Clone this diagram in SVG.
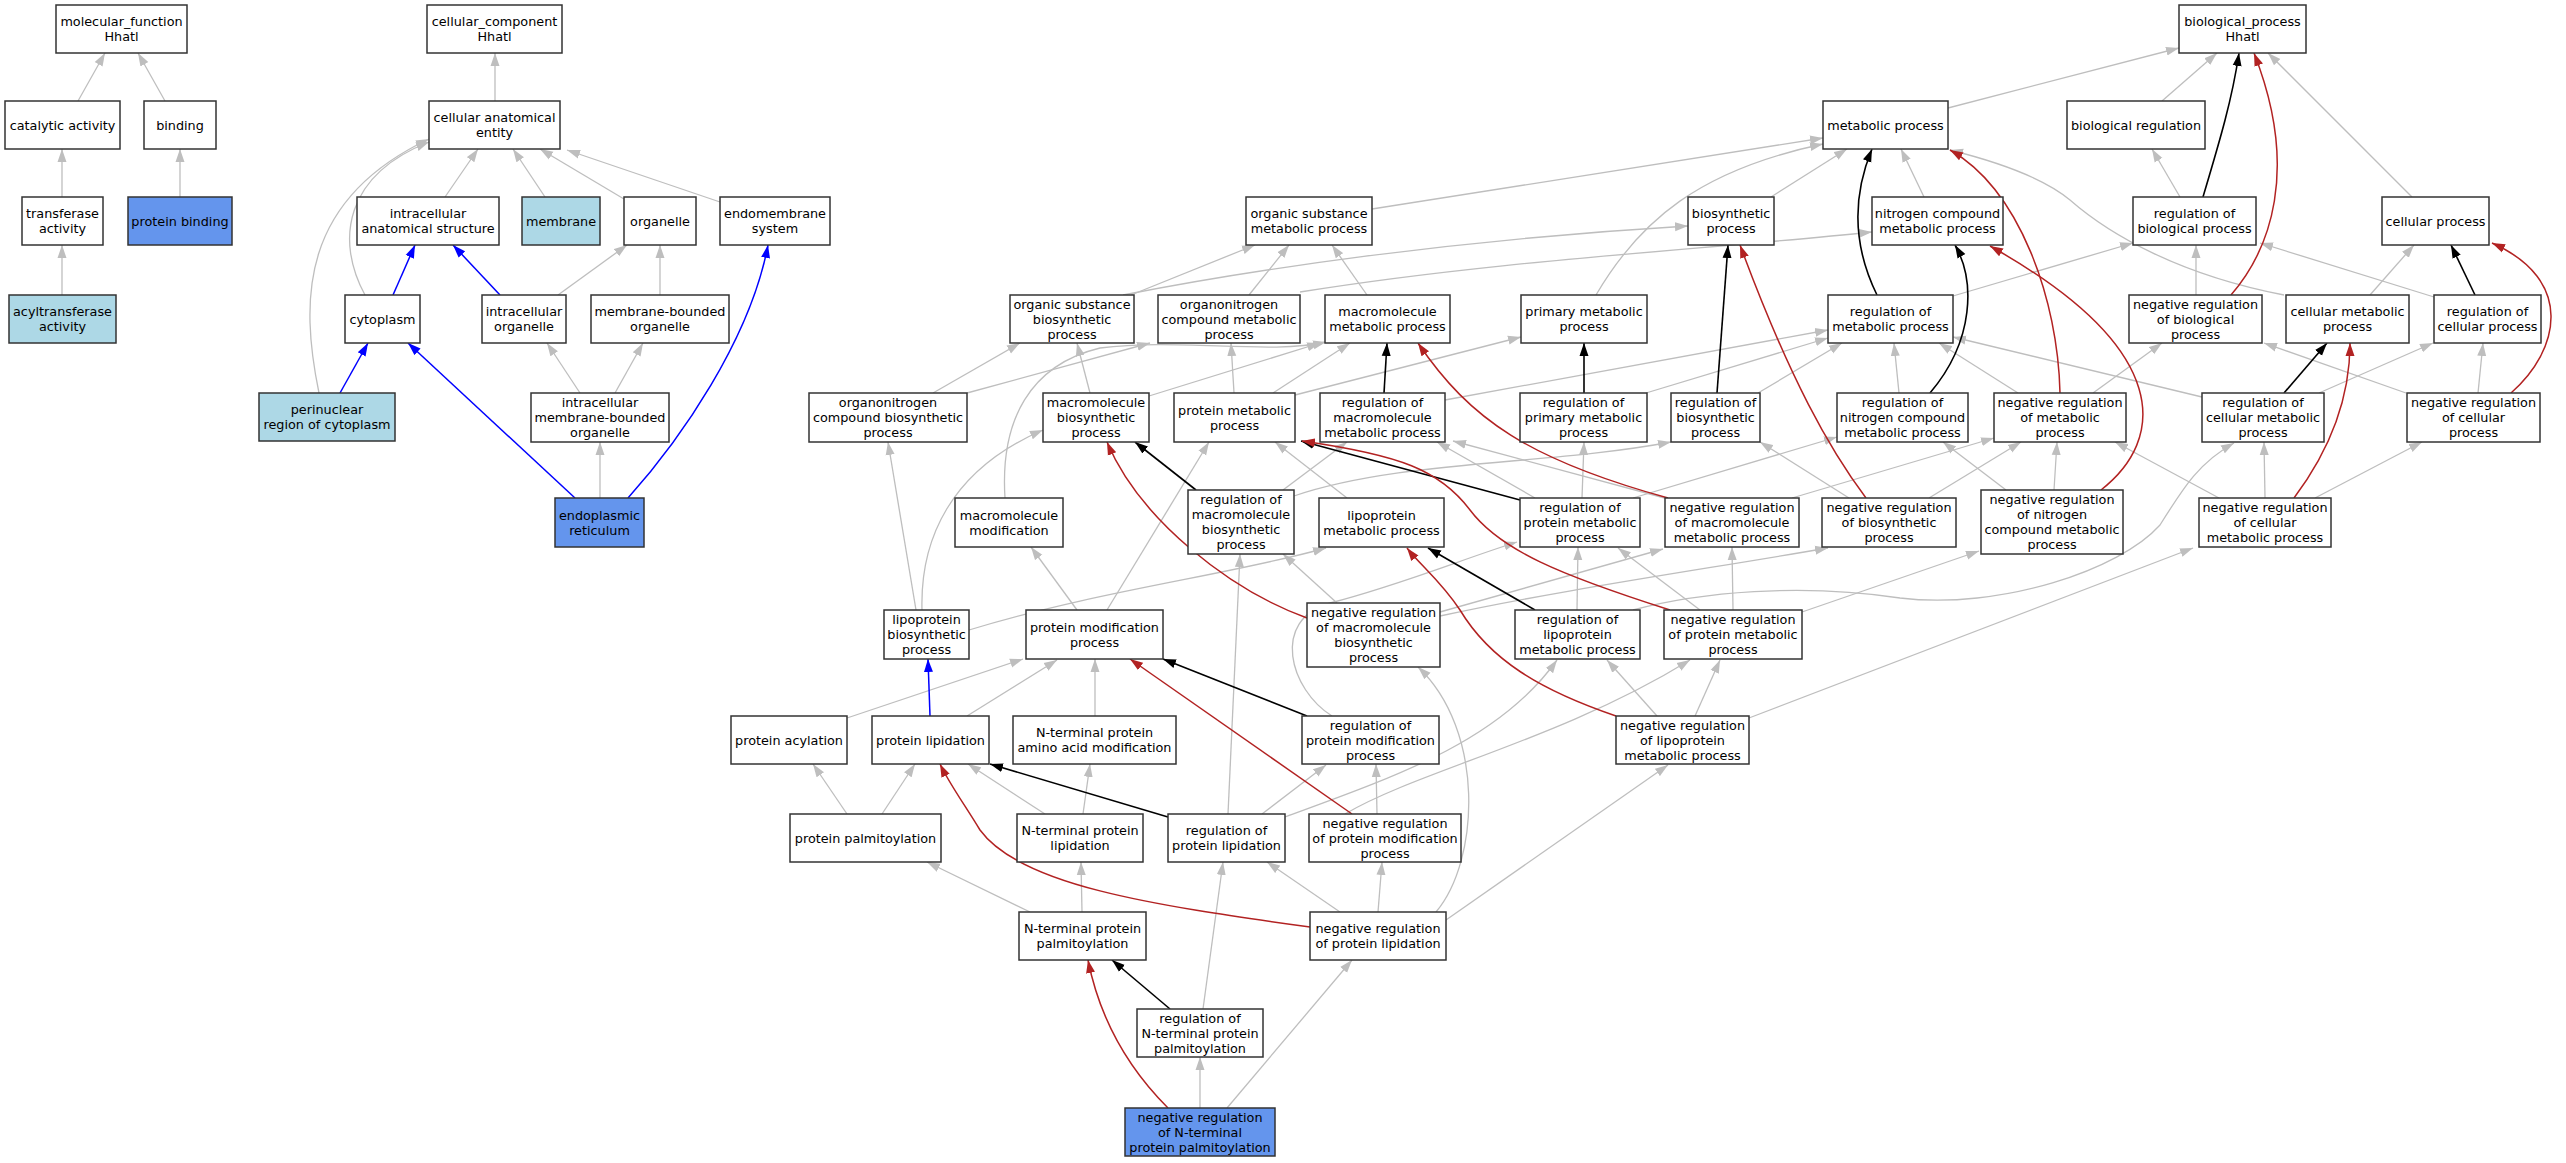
<svg xmlns="http://www.w3.org/2000/svg" width="2566" height="1163" viewBox="0 0 2566 1163">
<style>
.n rect{fill:#fff;stroke:#333;stroke-width:1.5}
.n.lb rect{fill:#ADD8E6}
.n.cb rect{fill:#6495ED}
text{font-family:"DejaVu Sans","Liberation Sans",sans-serif;font-size:12.8px;text-anchor:middle;fill:#000}
#edges path{fill:none;stroke-width:1.3}
#edges .g{stroke:#BEBEBE;marker-end:url(#ag)}
#edges .k{stroke:#000;stroke-width:1.6;marker-end:url(#ak)}
#edges .r{stroke:#B22222;stroke-width:1.5;marker-end:url(#ar)}
#edges .b{stroke:#0000FF;stroke-width:1.5;marker-end:url(#ab)}
</style>
<defs>
<marker id="ag" viewBox="0 0 13 10" refX="13" refY="5" markerWidth="13" markerHeight="10" markerUnits="userSpaceOnUse" orient="auto"><path d="M0,0.5 L13,5 L0,9.5 z" fill="#BEBEBE"/></marker>
<marker id="ak" viewBox="0 0 13 10" refX="13" refY="5" markerWidth="13" markerHeight="10" markerUnits="userSpaceOnUse" orient="auto"><path d="M0,0.5 L13,5 L0,9.5 z" fill="#000"/></marker>
<marker id="ar" viewBox="0 0 13 10" refX="13" refY="5" markerWidth="13" markerHeight="10" markerUnits="userSpaceOnUse" orient="auto"><path d="M0,0.5 L13,5 L0,9.5 z" fill="#B22222"/></marker>
<marker id="ab" viewBox="0 0 13 10" refX="13" refY="5" markerWidth="13" markerHeight="10" markerUnits="userSpaceOnUse" orient="auto"><path d="M0,0.5 L13,5 L0,9.5 z" fill="#0000FF"/></marker>
</defs>
<rect width="2566" height="1163" fill="#fff"/>
<g id="edges">
<path class="g" d="M78,101 L105,53"/>
<path class="g" d="M165,101 L138,53"/>
<path class="g" d="M62,197 L62,149"/>
<path class="g" d="M180,197 L180,149"/>
<path class="g" d="M62,295 L62,245"/>
<path class="g" d="M495,101 L495,53"/>
<path class="g" d="M445,197 L478,149"/>
<path class="g" d="M545,197 L513,149"/>
<path class="g" d="M624,199 L540,149"/>
<path class="g" d="M720,202 L567,150"/>
<path class="g" d="M365,295 C335,240 345,175 429,142"/>
<path class="g" d="M319,393 C300,300 300,200 429,139"/>
<path class="g" d="M558,295 L627,245"/>
<path class="g" d="M660,295 L660,245"/>
<path class="g" d="M580,393 L547,343"/>
<path class="g" d="M615,393 L643,343"/>
<path class="g" d="M600,498 L600,442"/>
<path class="b" d="M393,295 L415,245"/>
<path class="b" d="M500,295 L453,245"/>
<path class="b" d="M340,393 L368,343"/>
<path class="b" d="M575,498 L408,343"/>
<path class="b" d="M628,498 C680,440 750,340 768,245"/>
<path class="g" d="M1948,108 L2179,48"/>
<path class="g" d="M2162,101 L2217,53"/>
<path class="g" d="M2412,197 L2268,53"/>
<path class="g" d="M2180,197 L2152,149"/>
<path class="g" d="M2196,295 L2196,245"/>
<path class="g" d="M2370,295 L2414,245"/>
<path class="g" d="M2478,393 L2483,343"/>
<path class="g" d="M2434,297 L2260,243"/>
<path class="g" d="M2406,393 L2264,343"/>
<path class="g" d="M2284,295 C2180,275 2110,235 2070,200 C2040,175 1990,160 1950,150"/>
<path class="g" d="M1924,197 L1901,149"/>
<path class="g" d="M1771,197 L1847,149"/>
<path class="g" d="M1596,295 C1640,220 1700,170 1823,144"/>
<path class="g" d="M1372,209 L1823,138"/>
<path class="g" d="M1953,296 L2133,243"/>
<path class="g" d="M2093,393 L2162,343"/>
<path class="g" d="M2018,393 L1939,343"/>
<path class="g" d="M2319,393 L2433,343"/>
<path class="g" d="M2202,397 L1953,337"/>
<path class="g" d="M2265,498 L2264,442"/>
<path class="g" d="M2315,498 L2422,442"/>
<path class="g" d="M2219,498 L2115,442"/>
<path class="g" d="M1849,498 L1760,442"/>
<path class="g" d="M1929,498 L2021,442"/>
<path class="g" d="M2054,490 L2057,442"/>
<path class="g" d="M2006,490 L1943,442"/>
<path class="g" d="M1899,393 L1894,343"/>
<path class="g" d="M1646,393 L1828,338"/>
<path class="g" d="M1758,393 L1842,343"/>
<path class="g" d="M1445,400 L1828,330"/>
<path class="g" d="M1131,295 L1255,245"/>
<path class="g" d="M1123,295 C1250,270 1450,240 1688,226"/>
<path class="g" d="M1249,295 L1289,245"/>
<path class="g" d="M1300,292 C1500,260 1700,250 1872,232"/>
<path class="g" d="M1367,295 L1332,245"/>
<path class="g" d="M933,393 L1020,343"/>
<path class="g" d="M967,393 L1150,343"/>
<path class="g" d="M1090,393 L1077,343"/>
<path class="g" d="M1149,396 L1320,343"/>
<path class="g" d="M1234,393 L1231,343"/>
<path class="g" d="M1273,393 L1350,343"/>
<path class="g" d="M1295,395 L1521,337"/>
<path class="g" d="M1005,498 C1000,420 1030,365 1100,348 C1180,338 1270,355 1326,342"/>
<path class="g" d="M1077,610 L1031,547"/>
<path class="g" d="M1283,490 L1347,442"/>
<path class="g" d="M1294,496 C1400,460 1550,465 1671,442"/>
<path class="g" d="M1347,498 L1275,442"/>
<path class="g" d="M1535,498 L1437,442"/>
<path class="g" d="M1582,498 L1584,442"/>
<path class="g" d="M1633,498 L1837,437"/>
<path class="g" d="M1672,500 L1453,441"/>
<path class="g" d="M1792,498 L1994,438"/>
<path class="g" d="M1802,612 L1979,551"/>
<path class="g" d="M916,610 L888,442"/>
<path class="g" d="M922,610 C920,540 950,470 1043,430"/>
<path class="g" d="M969,630 C1100,590 1230,575 1326,548"/>
<path class="g" d="M1107,610 L1209,442"/>
<path class="g" d="M1337,603 L1283,554"/>
<path class="g" d="M1440,616 C1560,590 1700,570 1828,548"/>
<path class="g" d="M1440,612 L1663,549"/>
<path class="g" d="M1577,610 L1578,547"/>
<path class="g" d="M1633,610 C1700,592 1800,583 1900,598 C2000,610 2120,570 2160,525 C2185,485 2200,462 2234,443"/>
<path class="g" d="M1733,610 L1732,547"/>
<path class="g" d="M1700,610 L1618,548"/>
<path class="g" d="M847,718 L1023,659"/>
<path class="g" d="M967,716 L1057,660"/>
<path class="g" d="M1095,716 L1095,659"/>
<path class="g" d="M1332,716 C1290,690 1270,620 1330,603 C1400,585 1460,560 1517,542"/>
<path class="g" d="M1657,716 L1607,660"/>
<path class="g" d="M1695,716 L1720,660"/>
<path class="g" d="M1749,718 L2193,548"/>
<path class="g" d="M847,814 L813,764"/>
<path class="g" d="M882,814 L915,764"/>
<path class="g" d="M1045,814 L968,764"/>
<path class="g" d="M1083,814 L1090,764"/>
<path class="g" d="M1228,814 L1240,554"/>
<path class="g" d="M1262,814 L1326,765"/>
<path class="g" d="M1285,817 C1400,775 1500,740 1557,660"/>
<path class="g" d="M1377,814 L1376,764"/>
<path class="g" d="M1345,814 C1420,770 1560,740 1690,660"/>
<path class="g" d="M1030,912 L927,862"/>
<path class="g" d="M1082,912 L1081,862"/>
<path class="g" d="M1340,912 L1267,862"/>
<path class="g" d="M1378,912 L1382,862"/>
<path class="g" d="M1446,920 L1668,765"/>
<path class="g" d="M1436,912 C1480,860 1485,730 1418,667"/>
<path class="g" d="M1203,1009 L1223,862"/>
<path class="g" d="M1200,1108 L1200,1057"/>
<path class="g" d="M1227,1108 L1352,960"/>
<path class="b" d="M930,716 L928,659"/>
<path class="k" d="M2203,197 C2220,140 2232,100 2239,53"/>
<path class="k" d="M2475,295 L2451,245"/>
<path class="k" d="M1877,295 C1850,240 1855,190 1872,149"/>
<path class="k" d="M2284,393 L2327,343"/>
<path class="k" d="M1930,393 C1975,340 1975,280 1955,245"/>
<path class="k" d="M1384,393 L1387,343"/>
<path class="k" d="M1584,393 L1584,343"/>
<path class="k" d="M1717,393 L1728,245"/>
<path class="k" d="M1196,490 L1135,442"/>
<path class="k" d="M1520,500 L1301,441"/>
<path class="k" d="M1535,610 L1428,548"/>
<path class="k" d="M1307,716 L1163,659"/>
<path class="k" d="M1168,817 L990,764"/>
<path class="k" d="M1170,1009 L1112,960"/>
<path class="r" d="M2231,295 C2270,250 2300,170 2254,53"/>
<path class="r" d="M2511,393 C2560,350 2575,280 2492,243"/>
<path class="r" d="M2060,393 C2058,300 2020,190 1950,150"/>
<path class="r" d="M2101,490 C2165,440 2175,350 1990,246"/>
<path class="r" d="M2294,498 C2330,450 2350,400 2350,343"/>
<path class="r" d="M1866,498 C1830,450 1790,380 1740,245"/>
<path class="r" d="M1668,498 C1530,460 1470,420 1418,343"/>
<path class="r" d="M1670,610 C1560,575 1500,550 1470,510 C1440,470 1400,455 1302,441"/>
<path class="r" d="M1307,618 C1230,590 1140,520 1107,442"/>
<path class="r" d="M1616,716 C1540,690 1490,660 1460,610 C1440,580 1420,565 1407,548"/>
<path class="r" d="M1352,814 L1130,659"/>
<path class="r" d="M1310,927 C1150,905 1020,885 980,830 C965,805 950,785 940,764"/>
<path class="r" d="M1168,1108 C1130,1070 1100,1020 1088,960"/>
</g>
<g id="n_mf" class="n"><rect x="56" y="5" width="131" height="48"/><text><tspan x="121.5" y="26">molecular_function</tspan><tspan x="121.5" y="41">Hhatl</tspan></text></g>
<g id="n_cat" class="n"><rect x="5" y="101" width="115" height="48"/><text x="62.5" y="129.5">catalytic activity</text></g>
<g id="n_bind" class="n"><rect x="144" y="101" width="72" height="48"/><text x="180" y="129.5">binding</text></g>
<g id="n_trans" class="n"><rect x="22" y="197" width="81" height="48"/><text><tspan x="62.5" y="218">transferase</tspan><tspan x="62.5" y="233">activity</tspan></text></g>
<g id="n_pbind" class="n cb"><rect x="128" y="197" width="104" height="48"/><text x="180" y="225.5">protein binding</text></g>
<g id="n_acyl" class="n lb"><rect x="9" y="295" width="107" height="48"/><text><tspan x="62.5" y="316">acyltransferase</tspan><tspan x="62.5" y="331">activity</tspan></text></g>
<g id="n_cc" class="n"><rect x="427" y="5" width="135" height="48"/><text><tspan x="494.5" y="26">cellular_component</tspan><tspan x="494.5" y="41">Hhatl</tspan></text></g>
<g id="n_cae" class="n"><rect x="429" y="101" width="131" height="48"/><text><tspan x="494.5" y="122">cellular anatomical</tspan><tspan x="494.5" y="137">entity</tspan></text></g>
<g id="n_ias" class="n"><rect x="357" y="197" width="142" height="48"/><text><tspan x="428" y="218">intracellular</tspan><tspan x="428" y="233">anatomical structure</tspan></text></g>
<g id="n_mem" class="n lb"><rect x="522" y="197" width="78" height="48"/><text x="561" y="225.5">membrane</text></g>
<g id="n_org" class="n"><rect x="624" y="197" width="72" height="48"/><text x="660" y="225.5">organelle</text></g>
<g id="n_endo" class="n"><rect x="720" y="197" width="110" height="48"/><text><tspan x="775" y="218">endomembrane</tspan><tspan x="775" y="233">system</tspan></text></g>
<g id="n_cyto" class="n"><rect x="345" y="295" width="75" height="48"/><text x="382.5" y="323.5">cytoplasm</text></g>
<g id="n_io" class="n"><rect x="482" y="295" width="84" height="48"/><text><tspan x="524" y="316">intracellular</tspan><tspan x="524" y="331">organelle</tspan></text></g>
<g id="n_mbo" class="n"><rect x="591" y="295" width="138" height="48"/><text><tspan x="660" y="316">membrane-bounded</tspan><tspan x="660" y="331">organelle</tspan></text></g>
<g id="n_peri" class="n lb"><rect x="259" y="393" width="136" height="48"/><text><tspan x="327" y="414">perinuclear</tspan><tspan x="327" y="429">region of cytoplasm</tspan></text></g>
<g id="n_imbo" class="n"><rect x="531" y="393" width="138" height="49"/><text><tspan x="600" y="407">intracellular</tspan><tspan x="600" y="422">membrane-bounded</tspan><tspan x="600" y="437">organelle</tspan></text></g>
<g id="n_er" class="n cb"><rect x="555" y="498" width="89" height="49"/><text><tspan x="599.5" y="519.5">endoplasmic</tspan><tspan x="599.5" y="534.5">reticulum</tspan></text></g>
<g id="n_bp" class="n"><rect x="2179" y="5" width="127" height="48"/><text><tspan x="2242.5" y="26">biological_process</tspan><tspan x="2242.5" y="41">Hhatl</tspan></text></g>
<g id="n_met" class="n"><rect x="1823" y="101" width="125" height="48"/><text x="1885.5" y="129.5">metabolic process</text></g>
<g id="n_biore" class="n"><rect x="2067" y="101" width="138" height="48"/><text x="2136" y="129.5">biological regulation</text></g>
<g id="n_osm" class="n"><rect x="1246" y="197" width="126" height="48"/><text><tspan x="1309" y="218">organic substance</tspan><tspan x="1309" y="233">metabolic process</tspan></text></g>
<g id="n_bios" class="n"><rect x="1688" y="197" width="86" height="48"/><text><tspan x="1731" y="218">biosynthetic</tspan><tspan x="1731" y="233">process</tspan></text></g>
<g id="n_ncm" class="n"><rect x="1872" y="197" width="131" height="48"/><text><tspan x="1937.5" y="218">nitrogen compound</tspan><tspan x="1937.5" y="233">metabolic process</tspan></text></g>
<g id="n_rbp" class="n"><rect x="2133" y="197" width="123" height="48"/><text><tspan x="2194.5" y="218">regulation of</tspan><tspan x="2194.5" y="233">biological process</tspan></text></g>
<g id="n_cp" class="n"><rect x="2382" y="197" width="107" height="48"/><text x="2435.5" y="225.5">cellular process</text></g>
<g id="n_osb" class="n"><rect x="1010" y="295" width="124" height="48"/><text><tspan x="1072" y="308.5">organic substance</tspan><tspan x="1072" y="323.5">biosynthetic</tspan><tspan x="1072" y="338.5">process</tspan></text></g>
<g id="n_oncm" class="n"><rect x="1158" y="295" width="142" height="48"/><text><tspan x="1229" y="308.5">organonitrogen</tspan><tspan x="1229" y="323.5">compound metabolic</tspan><tspan x="1229" y="338.5">process</tspan></text></g>
<g id="n_mm" class="n"><rect x="1325" y="295" width="125" height="48"/><text><tspan x="1387.5" y="316">macromolecule</tspan><tspan x="1387.5" y="331">metabolic process</tspan></text></g>
<g id="n_pm" class="n"><rect x="1521" y="295" width="126" height="48"/><text><tspan x="1584" y="316">primary metabolic</tspan><tspan x="1584" y="331">process</tspan></text></g>
<g id="n_rm" class="n"><rect x="1828" y="295" width="125" height="48"/><text><tspan x="1890.5" y="316">regulation of</tspan><tspan x="1890.5" y="331">metabolic process</tspan></text></g>
<g id="n_nrbp" class="n"><rect x="2129" y="295" width="133" height="48"/><text><tspan x="2195.5" y="308.5">negative regulation</tspan><tspan x="2195.5" y="323.5">of biological</tspan><tspan x="2195.5" y="338.5">process</tspan></text></g>
<g id="n_cmp" class="n"><rect x="2286" y="295" width="123" height="48"/><text><tspan x="2347.5" y="316">cellular metabolic</tspan><tspan x="2347.5" y="331">process</tspan></text></g>
<g id="n_rcp" class="n"><rect x="2434" y="295" width="107" height="48"/><text><tspan x="2487.5" y="316">regulation of</tspan><tspan x="2487.5" y="331">cellular process</tspan></text></g>
<g id="n_oncb" class="n"><rect x="809" y="393" width="158" height="49"/><text><tspan x="888" y="407">organonitrogen</tspan><tspan x="888" y="422">compound biosynthetic</tspan><tspan x="888" y="437">process</tspan></text></g>
<g id="n_mb" class="n"><rect x="1043" y="393" width="106" height="49"/><text><tspan x="1096" y="407">macromolecule</tspan><tspan x="1096" y="422">biosynthetic</tspan><tspan x="1096" y="437">process</tspan></text></g>
<g id="n_prm" class="n"><rect x="1174" y="393" width="121" height="49"/><text><tspan x="1234.5" y="414.5">protein metabolic</tspan><tspan x="1234.5" y="429.5">process</tspan></text></g>
<g id="n_rmm" class="n"><rect x="1320" y="393" width="125" height="49"/><text><tspan x="1382.5" y="407">regulation of</tspan><tspan x="1382.5" y="422">macromolecule</tspan><tspan x="1382.5" y="437">metabolic process</tspan></text></g>
<g id="n_rpm" class="n"><rect x="1520" y="393" width="127" height="49"/><text><tspan x="1583.5" y="407">regulation of</tspan><tspan x="1583.5" y="422">primary metabolic</tspan><tspan x="1583.5" y="437">process</tspan></text></g>
<g id="n_rb" class="n"><rect x="1671" y="393" width="89" height="49"/><text><tspan x="1715.5" y="407">regulation of</tspan><tspan x="1715.5" y="422">biosynthetic</tspan><tspan x="1715.5" y="437">process</tspan></text></g>
<g id="n_rncm" class="n"><rect x="1837" y="393" width="131" height="49"/><text><tspan x="1902.5" y="407">regulation of</tspan><tspan x="1902.5" y="422">nitrogen compound</tspan><tspan x="1902.5" y="437">metabolic process</tspan></text></g>
<g id="n_nrm" class="n"><rect x="1994" y="393" width="132" height="49"/><text><tspan x="2060" y="407">negative regulation</tspan><tspan x="2060" y="422">of metabolic</tspan><tspan x="2060" y="437">process</tspan></text></g>
<g id="n_rcm" class="n"><rect x="2202" y="393" width="122" height="49"/><text><tspan x="2263" y="407">regulation of</tspan><tspan x="2263" y="422">cellular metabolic</tspan><tspan x="2263" y="437">process</tspan></text></g>
<g id="n_nrcp" class="n"><rect x="2407" y="393" width="133" height="49"/><text><tspan x="2473.5" y="407">negative regulation</tspan><tspan x="2473.5" y="422">of cellular</tspan><tspan x="2473.5" y="437">process</tspan></text></g>
<g id="n_mmod" class="n"><rect x="955" y="498" width="108" height="49"/><text><tspan x="1009" y="519.5">macromolecule</tspan><tspan x="1009" y="534.5">modification</tspan></text></g>
<g id="n_rmb" class="n"><rect x="1188" y="490" width="106" height="64"/><text><tspan x="1241" y="504">regulation of</tspan><tspan x="1241" y="519">macromolecule</tspan><tspan x="1241" y="534">biosynthetic</tspan><tspan x="1241" y="549">process</tspan></text></g>
<g id="n_lpm" class="n"><rect x="1319" y="498" width="125" height="49"/><text><tspan x="1381.5" y="519.5">lipoprotein</tspan><tspan x="1381.5" y="534.5">metabolic process</tspan></text></g>
<g id="n_rprm" class="n"><rect x="1520" y="498" width="120" height="49"/><text><tspan x="1580" y="512">regulation of</tspan><tspan x="1580" y="527">protein metabolic</tspan><tspan x="1580" y="542">process</tspan></text></g>
<g id="n_nrmm" class="n"><rect x="1665" y="498" width="134" height="49"/><text><tspan x="1732" y="512">negative regulation</tspan><tspan x="1732" y="527">of macromolecule</tspan><tspan x="1732" y="542">metabolic process</tspan></text></g>
<g id="n_nrb" class="n"><rect x="1822" y="498" width="134" height="49"/><text><tspan x="1889" y="512">negative regulation</tspan><tspan x="1889" y="527">of biosynthetic</tspan><tspan x="1889" y="542">process</tspan></text></g>
<g id="n_nrncm" class="n"><rect x="1981" y="490" width="142" height="64"/><text><tspan x="2052" y="504">negative regulation</tspan><tspan x="2052" y="519">of nitrogen</tspan><tspan x="2052" y="534">compound metabolic</tspan><tspan x="2052" y="549">process</tspan></text></g>
<g id="n_nrcm" class="n"><rect x="2199" y="498" width="132" height="49"/><text><tspan x="2265" y="512">negative regulation</tspan><tspan x="2265" y="527">of cellular</tspan><tspan x="2265" y="542">metabolic process</tspan></text></g>
<g id="n_lpb" class="n"><rect x="884" y="610" width="85" height="49"/><text><tspan x="926.5" y="624">lipoprotein</tspan><tspan x="926.5" y="639">biosynthetic</tspan><tspan x="926.5" y="654">process</tspan></text></g>
<g id="n_pmod" class="n"><rect x="1026" y="610" width="137" height="49"/><text><tspan x="1094.5" y="631.5">protein modification</tspan><tspan x="1094.5" y="646.5">process</tspan></text></g>
<g id="n_nrmb" class="n"><rect x="1307" y="603" width="133" height="64"/><text><tspan x="1373.5" y="617">negative regulation</tspan><tspan x="1373.5" y="632">of macromolecule</tspan><tspan x="1373.5" y="647">biosynthetic</tspan><tspan x="1373.5" y="662">process</tspan></text></g>
<g id="n_rlpm" class="n"><rect x="1515" y="610" width="125" height="49"/><text><tspan x="1577.5" y="624">regulation of</tspan><tspan x="1577.5" y="639">lipoprotein</tspan><tspan x="1577.5" y="654">metabolic process</tspan></text></g>
<g id="n_nrprm" class="n"><rect x="1664" y="610" width="138" height="49"/><text><tspan x="1733" y="624">negative regulation</tspan><tspan x="1733" y="639">of protein metabolic</tspan><tspan x="1733" y="654">process</tspan></text></g>
<g id="n_pacyl" class="n"><rect x="731" y="716" width="116" height="48"/><text x="789" y="744.5">protein acylation</text></g>
<g id="n_plip" class="n"><rect x="872" y="716" width="117" height="48"/><text x="930.5" y="744.5">protein lipidation</text></g>
<g id="n_ntaam" class="n"><rect x="1013" y="716" width="163" height="48"/><text><tspan x="1094.5" y="737">N-terminal protein</tspan><tspan x="1094.5" y="752">amino acid modification</tspan></text></g>
<g id="n_rpmod" class="n"><rect x="1302" y="716" width="137" height="48"/><text><tspan x="1370.5" y="729.5">regulation of</tspan><tspan x="1370.5" y="744.5">protein modification</tspan><tspan x="1370.5" y="759.5">process</tspan></text></g>
<g id="n_nrlpm" class="n"><rect x="1616" y="716" width="133" height="48"/><text><tspan x="1682.5" y="729.5">negative regulation</tspan><tspan x="1682.5" y="744.5">of lipoprotein</tspan><tspan x="1682.5" y="759.5">metabolic process</tspan></text></g>
<g id="n_ppalm" class="n"><rect x="790" y="814" width="151" height="48"/><text x="865.5" y="842.5">protein palmitoylation</text></g>
<g id="n_ntpl" class="n"><rect x="1017" y="814" width="126" height="48"/><text><tspan x="1080" y="835">N-terminal protein</tspan><tspan x="1080" y="850">lipidation</tspan></text></g>
<g id="n_rpl" class="n"><rect x="1168" y="814" width="117" height="48"/><text><tspan x="1226.5" y="835">regulation of</tspan><tspan x="1226.5" y="850">protein lipidation</tspan></text></g>
<g id="n_nrpmod" class="n"><rect x="1309" y="814" width="152" height="48"/><text><tspan x="1385" y="827.5">negative regulation</tspan><tspan x="1385" y="842.5">of protein modification</tspan><tspan x="1385" y="857.5">process</tspan></text></g>
<g id="n_ntpp" class="n"><rect x="1019" y="912" width="127" height="48"/><text><tspan x="1082.5" y="933">N-terminal protein</tspan><tspan x="1082.5" y="948">palmitoylation</tspan></text></g>
<g id="n_nrpl" class="n"><rect x="1310" y="912" width="136" height="48"/><text><tspan x="1378" y="933">negative regulation</tspan><tspan x="1378" y="948">of protein lipidation</tspan></text></g>
<g id="n_rntpp" class="n"><rect x="1137" y="1009" width="126" height="48"/><text><tspan x="1200" y="1022.5">regulation of</tspan><tspan x="1200" y="1037.5">N-terminal protein</tspan><tspan x="1200" y="1052.5">palmitoylation</tspan></text></g>
<g id="n_nrntpp" class="n cb"><rect x="1125" y="1108" width="150" height="48"/><text><tspan x="1200" y="1121.5">negative regulation</tspan><tspan x="1200" y="1136.5">of N-terminal</tspan><tspan x="1200" y="1151.5">protein palmitoylation</tspan></text></g>
</svg>
